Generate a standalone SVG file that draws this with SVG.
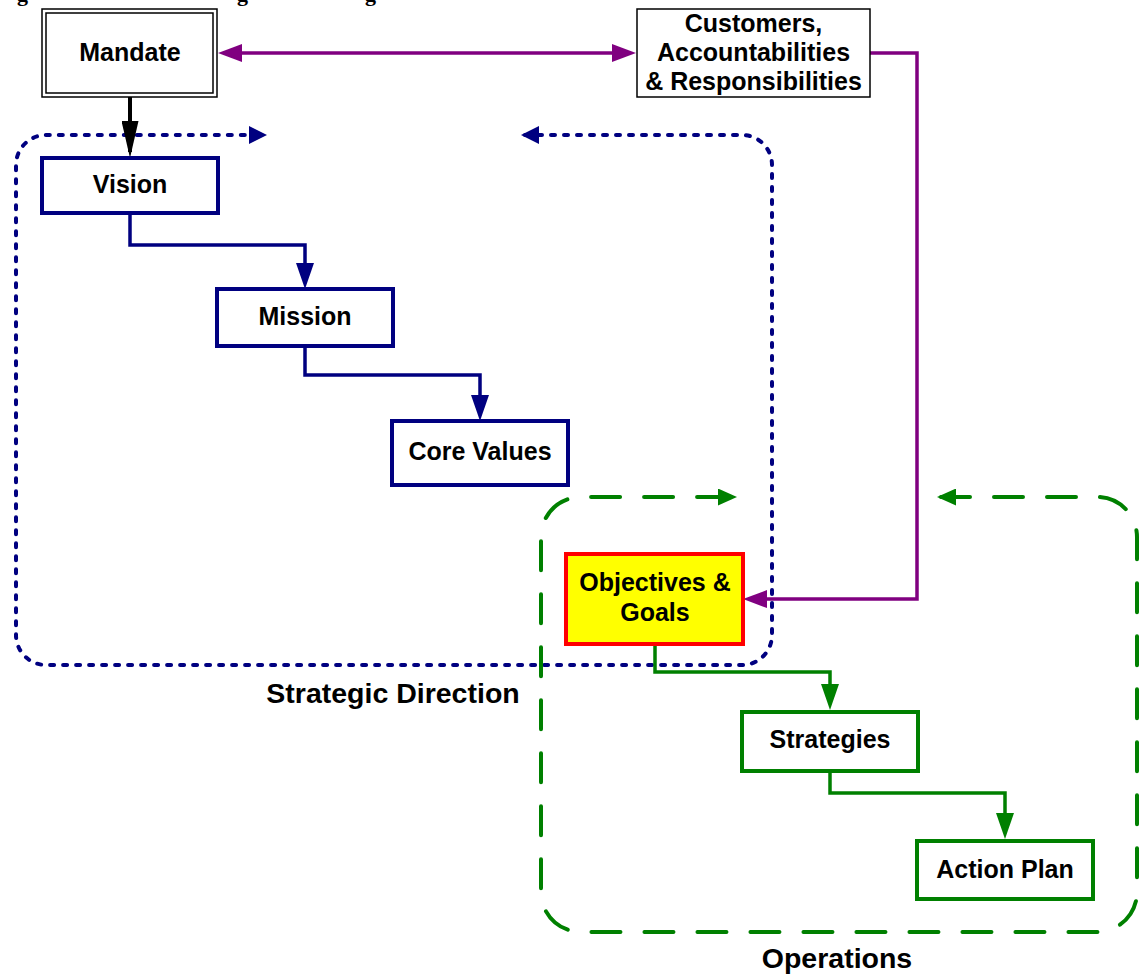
<svg xmlns="http://www.w3.org/2000/svg" width="1139" height="976" viewBox="0 0 1139 976">
<style>
.t{font-family:"Liberation Sans",Arial,sans-serif;font-weight:bold;font-size:25px;text-anchor:middle;fill:#000}
.lbl{font-family:"Liberation Sans",Arial,sans-serif;font-weight:bold;font-size:28.5px;text-anchor:middle;fill:#000}
.ttl{font-family:"Liberation Serif","Times New Roman",serif;font-weight:bold;font-size:22px;fill:#000}
.thin{fill:#fff;stroke:#000;stroke-width:1.5}
.blue{fill:#fff;stroke:#000080;stroke-width:4}
.green{fill:#fff;stroke:#008000;stroke-width:4}
.cb{fill:none;stroke:#000080;stroke-width:3.5}
.cg{fill:none;stroke:#008000;stroke-width:3.5}
.cp{fill:none;stroke:#800080;stroke-width:3.5}
.dot{fill:none;stroke:#000080;stroke-width:4;stroke-dasharray:4 9;stroke-linecap:round}
.dash{fill:none;stroke:#008000;stroke-width:4;stroke-dasharray:29 24;stroke-linecap:round}
</style>
<defs>
<marker id="ab" markerUnits="userSpaceOnUse" markerWidth="26" markerHeight="18" refX="20" refY="9" orient="auto"><path d="M0,0 L26,9 L0,18 z" fill="#000080"/></marker>
<marker id="ag" markerUnits="userSpaceOnUse" markerWidth="26" markerHeight="18" refX="20" refY="9" orient="auto"><path d="M0,0 L26,9 L0,18 z" fill="#008000"/></marker>
<marker id="ap" markerUnits="userSpaceOnUse" markerWidth="24" markerHeight="18" refX="18" refY="9" orient="auto-start-reverse"><path d="M0,0 L24,9 L0,18 z" fill="#800080"/></marker>
<marker id="ak" markerUnits="userSpaceOnUse" markerWidth="37" markerHeight="17" refX="31" refY="8.5" orient="auto"><path d="M0,0 L37,8.5 L0,17 z" fill="#000"/></marker>
<marker id="lb" markerUnits="userSpaceOnUse" markerWidth="18" markerHeight="18" refX="14" refY="9" orient="auto-start-reverse"><path d="M0,0 L18,9 L0,18 z" fill="#000080"/></marker>
<marker id="lg" markerUnits="userSpaceOnUse" markerWidth="19" markerHeight="17" refX="15" refY="8.5" orient="auto-start-reverse"><path d="M0,0 L19,8.5 L0,17 z" fill="#008000"/></marker>
</defs>
<text class="ttl" x="17 237 365" y="0.5">ggg</text>
<g id="loops">
<path id="strategic-loop" class="dot" d="M525,135 H742 A30,30 0 0 1 772,165 V635 A30,30 0 0 1 742,665 H46 A30,30 0 0 1 16,635 V165 A30,30 0 0 1 46,135 H263" marker-start="url(#lb)" marker-end="url(#lb)"/>
<path id="operations-loop" class="dash" d="M941,497 H1097 A40,40 0 0 1 1137,537 V892 A40,40 0 0 1 1097,932 H581 A40,40 0 0 1 541,892 V537 A40,40 0 0 1 581,497 H733" marker-start="url(#lg)" marker-end="url(#lg)"/>
</g>
<g id="connectors">
<path class="cp" d="M224,53 H630" marker-start="url(#ap)" marker-end="url(#ap)"/>
<path class="cp" d="M870,53 H917 V599 H749" marker-end="url(#ap)"/>
<path fill="none" stroke="#000" stroke-width="4" d="M130,97 V152" marker-end="url(#ak)"/>
<path class="cb" d="M130,214 V245 H305 V283" marker-end="url(#ab)"/>
<path class="cb" d="M305,346 V375 H480 V415" marker-end="url(#ab)"/>
<path class="cg" d="M655,644 V672 H830 V704" marker-end="url(#ag)"/>
<path class="cg" d="M830,771 V793 H1005 V833" marker-end="url(#ag)"/>
</g>
<g id="mandate">
<rect class="thin" x="42" y="9" width="175" height="88"/>
<rect class="thin" x="46" y="13" width="167" height="80"/>
<text class="t" x="130" y="61">Mandate</text>
</g>
<g id="customers">
<rect class="thin" x="637" y="9" width="233" height="88"/>
<text class="t" x="753.5" y="32">Customers,</text>
<text class="t" x="753.5" y="61">Accountabilities</text>
<text class="t" x="753.5" y="90">&amp; Responsibilities</text>
</g>
<g id="vision">
<rect class="blue" x="42" y="158" width="176" height="55"/>
<text class="t" x="130" y="193">Vision</text>
</g>
<g id="mission">
<rect class="blue" x="217" y="289" width="176" height="57"/>
<text class="t" x="305" y="325">Mission</text>
</g>
<g id="core-values">
<rect class="blue" x="392" y="421" width="176" height="64"/>
<text class="t" x="480" y="460">Core Values</text>
</g>
<g id="objectives">
<rect x="566" y="554" width="177" height="90" fill="#ffff00" stroke="#ff0000" stroke-width="4"/>
<text class="t" x="655" y="591">Objectives &amp;</text>
<text class="t" x="655" y="621">Goals</text>
</g>
<g id="strategies">
<rect class="green" x="742" y="712" width="176" height="59"/>
<text class="t" x="830" y="748">Strategies</text>
</g>
<g id="action-plan">
<rect class="green" x="917" y="841" width="176" height="58"/>
<text class="t" x="1005" y="878">Action Plan</text>
</g>
<g id="labels">
<text class="lbl" x="393" y="703">Strategic Direction</text>
<text class="lbl" x="837" y="968">Operations</text>
</g>
</svg>
